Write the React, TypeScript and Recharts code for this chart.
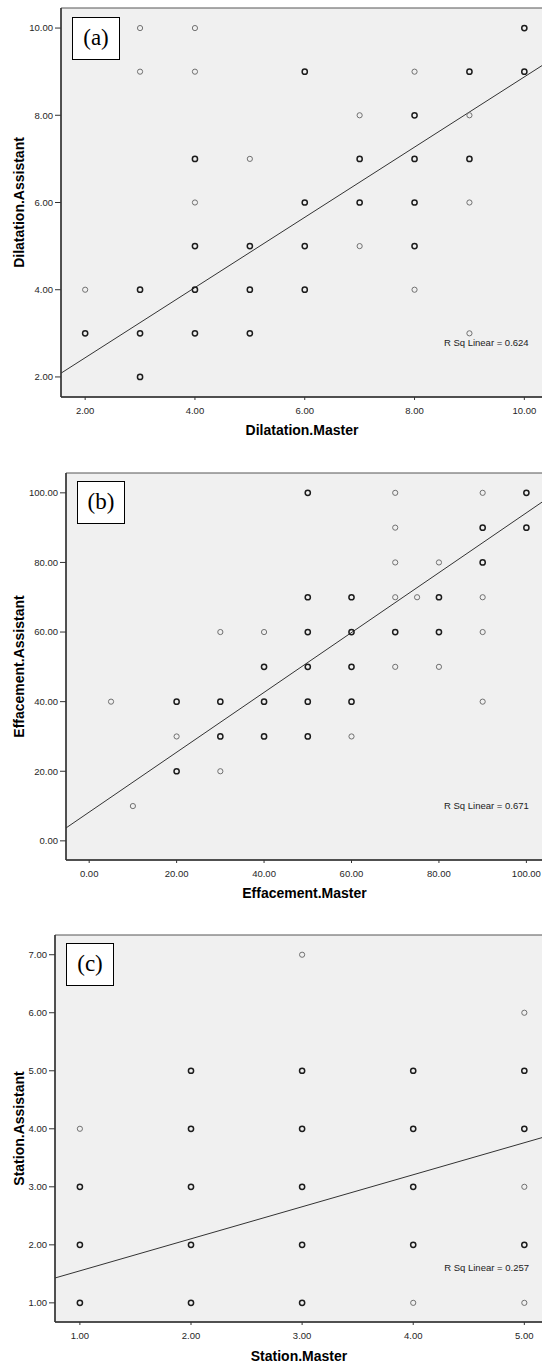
import React from 'react';
import {
  ScatterChart, Scatter, XAxis, YAxis,
  ReferenceArea, ReferenceLine, ReferenceDot,
} from 'recharts';

// [master, assistant, cases] - cases > 1 means overlapping ratings (drawn darker)
type Pt = [number, number, number];

const dilatationPts: Pt[] = [
  [3, 10, 1], [4, 10, 1], [10, 10, 2],
  [3, 9, 1], [4, 9, 1], [6, 9, 2], [8, 9, 1], [9, 9, 2], [10, 9, 2],
  [7, 8, 1], [8, 8, 2], [9, 8, 1],
  [4, 7, 2], [5, 7, 1], [7, 7, 2], [8, 7, 2], [9, 7, 2],
  [4, 6, 1], [6, 6, 2], [7, 6, 2], [8, 6, 2], [9, 6, 1],
  [4, 5, 2], [5, 5, 2], [6, 5, 2], [7, 5, 1], [8, 5, 2],
  [2, 4, 1], [3, 4, 2], [4, 4, 2], [5, 4, 2], [6, 4, 2], [8, 4, 1],
  [2, 3, 2], [3, 3, 2], [4, 3, 2], [5, 3, 2], [9, 3, 1],
  [3, 2, 2],
];
const dilatationTicks = [2, 4, 6, 8, 10];
const dilatationFit = [0.83, 0.805]; // intercept, slope
const dilatationR2 = 0.624;

const effacementPts: Pt[] = [
  [50, 100, 2], [70, 100, 1], [90, 100, 1], [100, 100, 2],
  [70, 90, 1], [90, 90, 2], [100, 90, 2],
  [70, 80, 1], [80, 80, 1], [90, 80, 2],
  [50, 70, 2], [60, 70, 2], [70, 70, 1], [75, 70, 1], [80, 70, 2], [90, 70, 1],
  [30, 60, 1], [40, 60, 1], [50, 60, 2], [60, 60, 2], [70, 60, 2], [80, 60, 2], [90, 60, 1],
  [40, 50, 2], [50, 50, 2], [60, 50, 2], [70, 50, 1], [80, 50, 1],
  [5, 40, 1], [20, 40, 2], [30, 40, 2], [40, 40, 2], [50, 40, 2], [60, 40, 2], [90, 40, 1],
  [20, 30, 1], [30, 30, 2], [40, 30, 2], [50, 30, 2], [60, 30, 1],
  [20, 20, 2], [30, 20, 1],
  [10, 10, 1],
];
const effacementXTicks = [0, 20, 40, 60, 80, 100];
const effacementYTicks = [0, 20, 40, 60, 80, 100];
const effacementFit = [8.26, 0.86];
const effacementR2 = 0.671;

const stationPts: Pt[] = [
  [3, 7, 1],
  [5, 6, 1],
  [2, 5, 2], [3, 5, 2], [4, 5, 2], [5, 5, 2],
  [1, 4, 1], [2, 4, 2], [3, 4, 2], [4, 4, 2], [5, 4, 2],
  [1, 3, 2], [2, 3, 2], [3, 3, 2], [4, 3, 2], [5, 3, 1],
  [1, 2, 2], [2, 2, 2], [3, 2, 2], [4, 2, 2], [5, 2, 2],
  [1, 1, 2], [2, 1, 2], [3, 1, 2], [4, 1, 1], [5, 1, 1],
];
const stationXTicks = [1, 2, 3, 4, 5];
const stationYTicks = [1, 2, 3, 4, 5, 6, 7];
const stationFit = [1.0, 0.552];
const stationR2 = 0.257;

const sans = '"Liberation Sans", Arial, sans-serif';
const tickStyle = { fill: '#262626', fontSize: 9.5, fontFamily: sans };
const titleStyle = { fill: '#000', fontSize: 14, fontWeight: 'bold', fontFamily: sans };

const Ring = (props: any) => {
  const { cx, cy, payload } = props;
  if (cx == null || cy == null) return null;
  const many = payload.n > 1;
  return (
    <circle cx={cx} cy={cy} r={2.6} fill="none"
      stroke={many ? '#1c1c1c' : '#707070'} strokeWidth={many ? 1.5 : 1} />
  );
};

interface PanelProps {
  tag: string;
  pts: Pt[];
  fit: number[];
  r2: number;
  r2At: [number, number];
  xTicks: number[];
  yTicks: number[];
  xDomain: [number, number];
  yDomain: [number, number];
  xName: string;
  yName: string;
  top: number;
  height: number;
  marginTop: number;
  xAxisH: number;
  yAxisW: number;
  titleOffset: number;
  box: { left: number; top: number };
}

function Panel(p: PanelProps) {
  const data = p.pts.map(([x, y, n]) => ({ x, y, n }));
  const [x0, x1] = p.xDomain;
  const line = [
    { x: x0, y: p.fit[0] + p.fit[1] * x0 },
    { x: x1, y: p.fit[0] + p.fit[1] * x1 },
  ];
  return (
    <div style={{ position: 'absolute', left: 0, top: p.top, width: 545, height: p.height }}>
      <ScatterChart width={545} height={p.height}
        margin={{ top: p.marginTop, right: 2, left: 0, bottom: 0 }}>
        <ReferenceArea x1={x0} x2={x1} y1={p.yDomain[0]} y2={p.yDomain[1]}
          fill="#f0f0f0" fillOpacity={1} stroke="#555" strokeWidth={1} />
        <XAxis type="number" dataKey="x" domain={p.xDomain} ticks={p.xTicks} allowDataOverflow
          height={p.xAxisH} tick={tickStyle} tickSize={3} tickMargin={7}
          tickLine={{ stroke: '#333' }} axisLine={{ stroke: '#333', strokeWidth: 1.5 }}
          tickFormatter={(v: number) => v.toFixed(2)}
          label={{ value: p.xName, position: 'insideBottom', offset: p.titleOffset, style: titleStyle }} />
        <YAxis type="number" dataKey="y" domain={p.yDomain} ticks={p.yTicks} allowDataOverflow
          width={p.yAxisW} tick={tickStyle} tickSize={6} tickMargin={2} tickLine={{ stroke: '#333' }}
          axisLine={{ stroke: '#333', strokeWidth: 1.5 }}
          tickFormatter={(v: number) => v.toFixed(2)}
          label={{ value: p.yName, angle: -90, position: 'insideLeft', offset: 19,
            style: { ...titleStyle, textAnchor: 'middle' } }} />
        <ReferenceLine segment={line} stroke="#333" strokeWidth={1} />
        <Scatter data={data} shape={<Ring />} isAnimationActive={false} />
        <ReferenceDot x={p.r2At[0]} y={p.r2At[1]} r={0} fill="none" stroke="none"
          label={{ value: `R Sq Linear = ${p.r2.toFixed(3)}`, position: 'left',
            style: { fill: '#222', fontSize: 9.5, fontFamily: sans } }} />
      </ScatterChart>
      <div style={{
        position: 'absolute', left: p.box.left, top: p.box.top, width: 48, height: 43,
        boxSizing: 'border-box', border: '1.5px solid #000', background: '#fff',
        fontFamily: '"Liberation Serif", "Times New Roman", serif', fontSize: 23,
        lineHeight: '40px', textAlign: 'center', color: '#000',
      }}>{p.tag}</div>
    </div>
  );
}

export default function App() {
  return (
    <div style={{ position: 'absolute', left: 0, top: 0, width: 542, height: 1365, overflow: 'hidden', background: '#fff' }}>
      <Panel tag="(a)" pts={dilatationPts} fit={dilatationFit} r2={dilatationR2} r2At={[10.17, 2.78]}
        xTicks={dilatationTicks} yTicks={dilatationTicks}
        xDomain={[1.56, 10.34]} yDomain={[1.54, 10.46]}
        xName="Dilatation.Master" yName="Dilatation.Assistant"
        top={0} height={440} marginTop={8} xAxisH={43} yAxisW={61} titleOffset={5}
        box={{ left: 72, top: 17 }} />
      <Panel tag="(b)" pts={effacementPts} fit={effacementFit} r2={effacementR2} r2At={[101.7, 10.1]}
        xTicks={effacementXTicks} yTicks={effacementYTicks}
        xDomain={[-5.3, 103.8]} yDomain={[-5.5, 105.7]}
        xName="Effacement.Master" yName="Effacement.Assistant"
        top={440} height={465} marginTop={33} xAxisH={45} yAxisW={66} titleOffset={7}
        box={{ left: 77, top: 41 }} />
      <Panel tag="(c)" pts={stationPts} fit={stationFit} r2={stationR2} r2At={[5.087, 1.61]}
        xTicks={stationXTicks} yTicks={stationYTicks}
        xDomain={[0.776, 5.168]} yDomain={[0.67, 7.34]}
        xName="Station.Master" yName="Station.Assistant"
        top={905} height={460} marginTop={30} xAxisH={43} yAxisW={55} titleOffset={4}
        box={{ left: 66, top: 38 }} />
    </div>
  );
}
